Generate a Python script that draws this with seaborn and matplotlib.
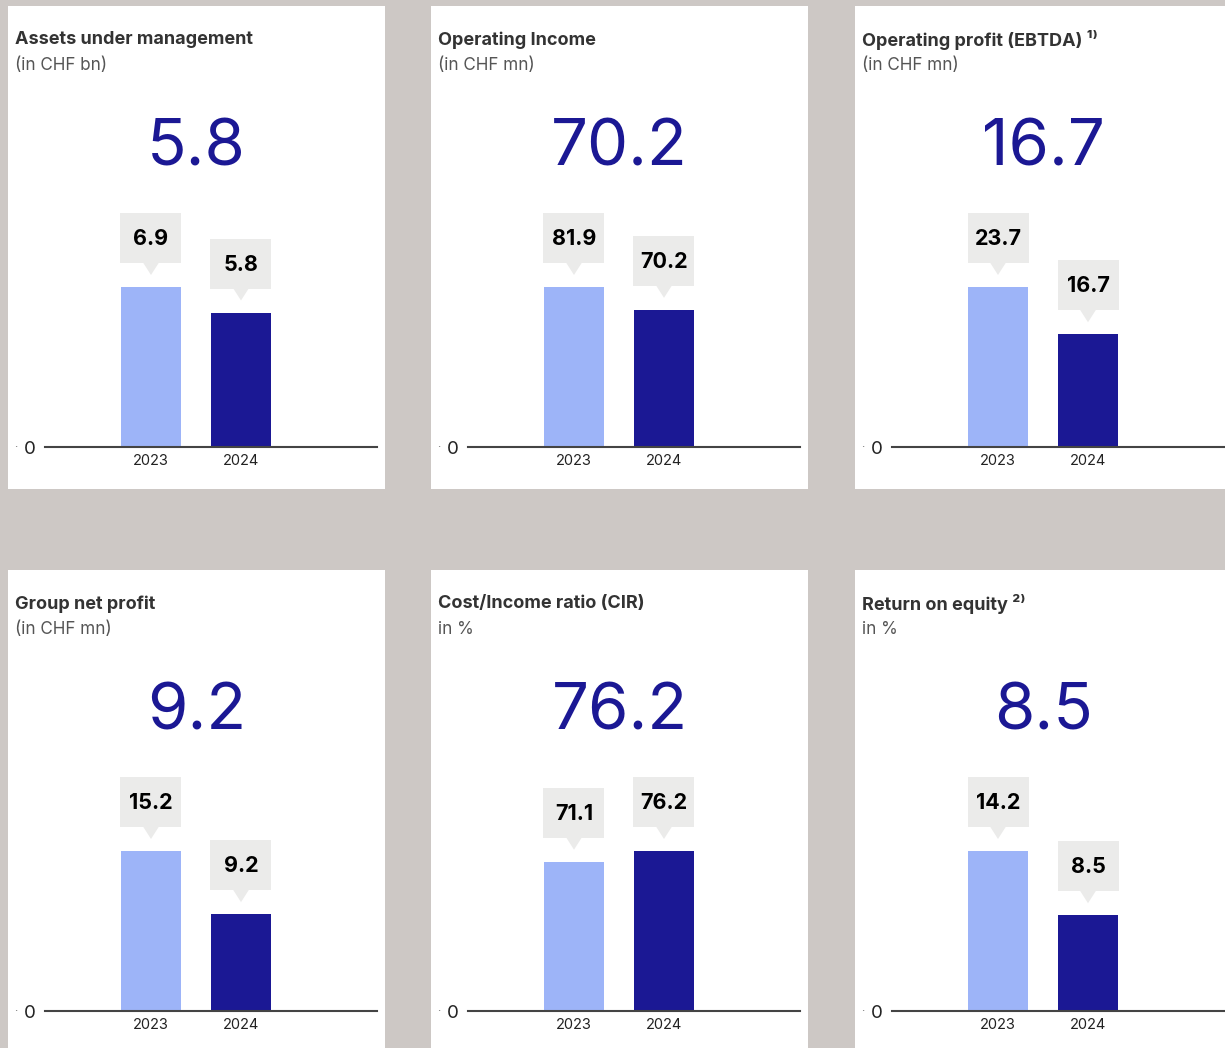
import matplotlib
matplotlib.use("Agg")
import matplotlib.pyplot as plt
import seaborn as sns
import pandas as pd
from matplotlib.patches import Rectangle, Polygon

sns.set_theme(style="white")
plt.rcParams['font.family'] = ['Inter', 'DejaVu Sans']

titles = ["Assets under management", "Operating Income", "Operating profit (EBTDA) ¹⁾",
          "Group net profit", "Cost/Income ratio (CIR)", "Return on equity ²⁾"]
subtitles = ["(in CHF bn)", "(in CHF mn)", "(in CHF mn)", "(in CHF mn)", "in %", "in %"]
years = ["2023", "2024"]
values_2023 = [6.9, 81.9, 23.7, 15.2, 71.1, 14.2]
values_2024 = [5.8, 70.2, 16.7, 9.2, 76.2, 8.5]

BG = "#cdc8c5"
LIGHT = "#9db4f8"
DARK = "#1b1894"
BOX = "#ebebea"
W, H = 1225, 1048

fig = plt.figure(figsize=(W / 100, H / 100), dpi=100, facecolor=BG)

col_left = [8, 431, 855]
row_top = [6, 570]
PW, PH = 377, 483

def fx(px):
    return px / W

def fy(py):
    return 1 - py / H

for k in range(6):
    r, c = divmod(k, 3)
    L, T = col_left[c], row_top[r]
    pax = fig.add_axes([fx(L), fy(T + PH), fx(PW), PH / H])
    pax.set_facecolor("white")
    pax.set_xticks([]); pax.set_yticks([])
    for s in pax.spines.values():
        s.set_visible(False)

    fig.text(fx(L + 7), fy(T + 34), titles[k], fontsize=13, fontweight="bold",
             color="#333333", ha="left", va="center")
    fig.text(fx(L + 7), fy(T + 59), subtitles[k], fontsize=12.3, color="#555555",
             ha="left", va="center")
    v23, v24 = values_2023[k], values_2024[k]
    fig.text(fx(L + PW / 2), fy(T + 142), f"{v24}", fontsize=47, fontweight="normal",
             color=DARK, ha="center", va="center")

    # bar axes
    ax_left = L + 37
    ax_w = 332
    base = T + 441
    ax_h = 251
    ax = fig.add_axes([fx(ax_left), fy(base), fx(ax_w), ax_h / H])
    ax.set_facecolor("none")
    df = pd.DataFrame({"year": years, "value": [v23, v24]})
    sns.barplot(data=df, x="year", y="value", hue="year", palette=[LIGHT, DARK],
                width=0.667, legend=False, ax=ax, saturation=1, linewidth=0)
    vmax = max(v23, v24)
    ytop = vmax * ax_h / 160
    ax.set_ylim(0, ytop)
    ax.set_xlim(-(151 - 45) / 90, (377 - 151) / 90)
    py = ytop / ax_h
    px = 1 / 90
    for i, v in enumerate([v23, v24]):
        ax.add_patch(Rectangle((i - 30.5 * px, v + 24 * py), 61 * px, 50 * py,
                               facecolor=BOX, edgecolor="none", clip_on=False))
        ax.add_patch(Polygon([(i - 8 * px, v + 24.5 * py), (i + 8 * px, v + 24.5 * py),
                              (i, v + 12 * py)], closed=True,
                             facecolor=BOX, edgecolor="none", clip_on=False))
        ax.text(i, v + 48 * py, f"{v}", ha="center", va="center", fontsize=15.5,
                fontweight="bold", color="black")
    ax.set_yticks([0])
    ax.set_yticklabels(["0"], fontsize=13.5, color="#222222")
    ax.tick_params(axis="y", length=0, pad=7)
    ax.tick_params(axis="x", length=0, pad=5, labelsize=10.5, labelcolor="#222222")
    ax.set_xlabel(""); ax.set_ylabel("")
    for s in ["top", "right", "left"]:
        ax.spines[s].set_visible(False)
    ax.spines["bottom"].set_color("#444444")
    ax.spines["bottom"].set_linewidth(1.5)
    fig.text(fx(L + 8), fy(base), "·", fontsize=8, color="#666666", ha="center", va="center")

fig.savefig("out.png", dpi=100, facecolor=BG)
